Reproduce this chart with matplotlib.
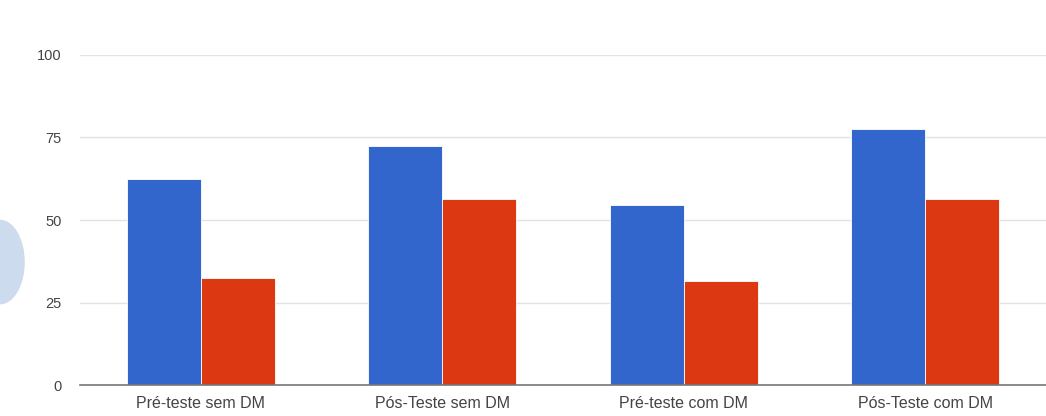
import matplotlib.pyplot as plt
import numpy as np
from matplotlib.patches import Ellipse

# Data
categories = ['Pré-teste sem DM', 'Pós-Teste sem DM', 'Pré-teste com DM', 'Pós-Teste com DM']
serie_azul = [62.5, 72.5, 54.5, 77.5]
serie_vermelha = [32.5, 56.5, 31.5, 56.5]
yticks = [0, 25, 50, 75, 100]

plt.rcParams['font.family'] = ['Liberation Sans', 'DejaVu Sans']

fig = plt.figure(figsize=(10.46, 4.16), dpi=100)
ax = fig.add_axes([0.0765, 0.0745, 0.9235, 0.7933])

x = np.arange(len(categories))
w = 0.307
ax.bar(x - w/2, serie_azul, width=w, color='#3366cc', edgecolor='white', linewidth=0.6, zorder=3)
ax.bar(x + w/2, serie_vermelha, width=w, color='#dc3912', edgecolor='white', linewidth=0.6, zorder=3)

ax.set_xlim(-0.5, len(categories) - 0.5)
ax.set_ylim(0, 100)
ax.set_yticks(yticks)
ax.set_yticklabels([str(t) for t in yticks], fontsize=10.5, color='#444444')
ax.set_xticks(x)
ax.set_xticklabels(categories, fontsize=11.5, color='#444444')
ax.tick_params(axis='y', length=0, pad=13)
ax.tick_params(axis='x', length=0, pad=8)
ax.grid(axis='y', color='#e3e3e3', linewidth=1, zorder=0)
for s in ['top', 'right', 'left']:
    ax.spines[s].set_visible(False)
ax.spines['bottom'].set_color('#777777')
ax.spines['bottom'].set_linewidth(1.2)
ax.spines['bottom'].set_zorder(4)

# faded blue shape at the left edge
fig.patches.append(Ellipse((0.0, 0.37), 0.046, 0.2, transform=fig.transFigure,
                           color='#cddbee', zorder=0))

fig.savefig('out.png', dpi=100)
